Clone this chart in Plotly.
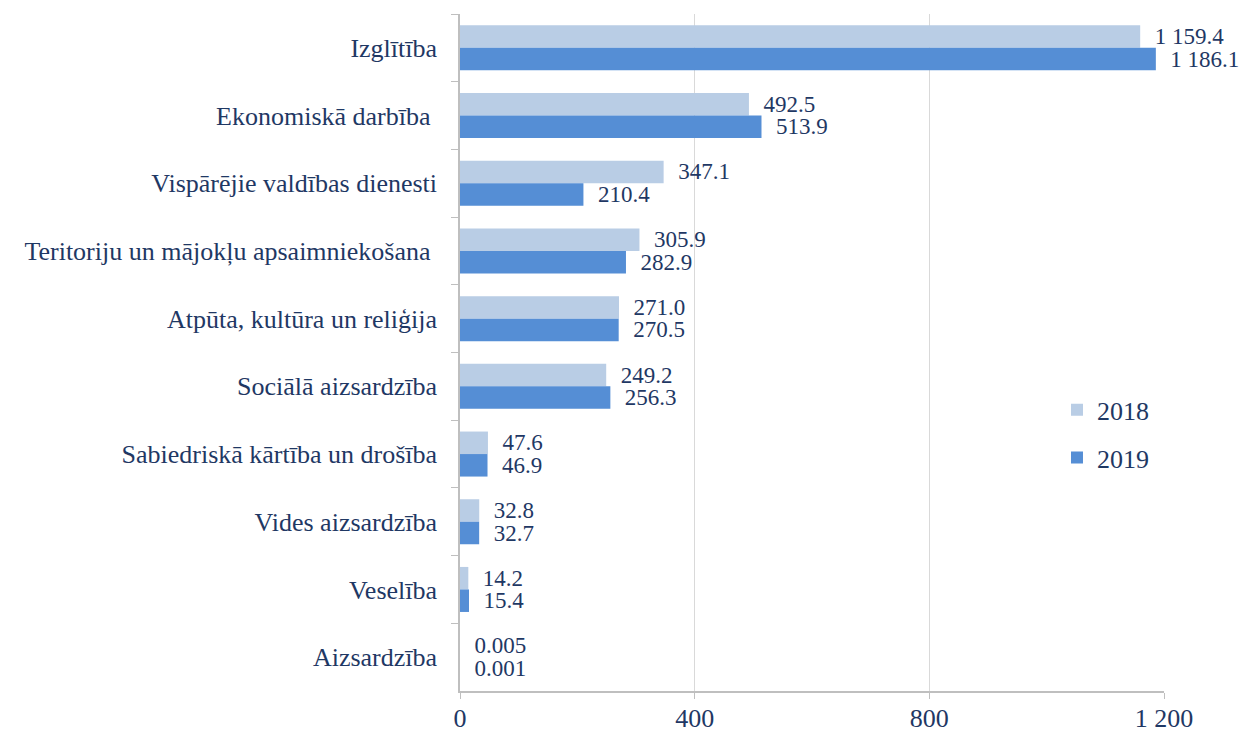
import plotly.graph_objects as go

categories = [
    "Izglītība",
    "Ekonomiskā darbība\u00a0",
    "Vispārējie valdības dienesti",
    "Teritoriju un mājokļu apsaimniekošana\u00a0",
    "Atpūta, kultūra un reliģija",
    "Sociālā aizsardzība",
    "Sabiedriskā kārtība un drošība",
    "Vides aizsardzība",
    "Veselība",
    "Aizsardzība",
]
values_2018 = [1159.4, 492.5, 347.1, 305.9, 271.0, 249.2, 47.6, 32.8, 14.2, 0.005]
values_2019 = [1186.1, 513.9, 210.4, 282.9, 270.5, 256.3, 46.9, 32.7, 15.4, 0.001]
labels_2018 = ["1 159.4", "492.5", "347.1", "305.9", "271.0", "249.2", "47.6", "32.8", "14.2", "0.005"]
labels_2019 = ["1 186.1", "513.9", "210.4", "282.9", "270.5", "256.3", "46.9", "32.7", "15.4", "0.001"]
x_ticks = [0, 400, 800, 1200]
x_ticktext = ["0", "400", "800", "1 200"]

FONT = "Liberation Serif, Times New Roman, serif"
TXT = "#1F3864"
pad = "\u00a0\u00a0"

fig = go.Figure()
fig.add_trace(go.Bar(
    name="2018", y=categories, x=values_2018, orientation="h",
    marker=dict(color="#B9CDE5", line=dict(width=0)),
    text=[pad + t for t in labels_2018], textposition="outside",
    textfont=dict(family=FONT, size=23, color=TXT),
    constraintext="none", cliponaxis=False, legendgroup="a",
))
fig.add_trace(go.Bar(
    name="2019", y=categories, x=values_2019, orientation="h",
    marker=dict(color="#558ED5", line=dict(width=0)),
    text=[pad + t for t in labels_2019], textposition="outside",
    textfont=dict(family=FONT, size=23, color=TXT),
    constraintext="none", cliponaxis=False, legendgroup="b",
))

fig.update_layout(
    width=1245, height=726,
    margin=dict(l=452, r=89, t=6, b=43, autoexpand=False),
    paper_bgcolor="white", plot_bgcolor="white",
    barmode="group", bargap=0.335, bargroupgap=0,
    font=dict(family=FONT, size=26, color=TXT),
    showlegend=True,
    legend=dict(
        x=0.848, y=0.45, xanchor="left", yanchor="top",
        bgcolor="rgba(0,0,0,0)", traceorder="grouped", tracegroupgap=11,
        font=dict(family=FONT, size=26, color=TXT),
    ),
    xaxis=dict(
        range=[0, 1200], tickvals=x_ticks, ticktext=x_ticktext,
        showgrid=True, gridcolor="#D9D9D9", gridwidth=1,
        showline=True, linecolor="#BFBFBF", linewidth=1.5,
        ticks="outside", ticklen=6, tickcolor="#BFBFBF",
        ticklabelstandoff=-3,
        zeroline=False, tickfont=dict(family=FONT, size=26, color=TXT),
        fixedrange=True,
    ),
    yaxis=dict(
        autorange="reversed", type="category",
        showline=True, linecolor="#BFBFBF", linewidth=1.5,
        ticks="outside", tickson="boundaries", ticklen=7, tickcolor="#BFBFBF",
        showgrid=False, ticklabelstandoff=16,
        tickfont=dict(family=FONT, size=26, color=TXT),
        fixedrange=True,
    ),
)

fig.write_html("out.html")
